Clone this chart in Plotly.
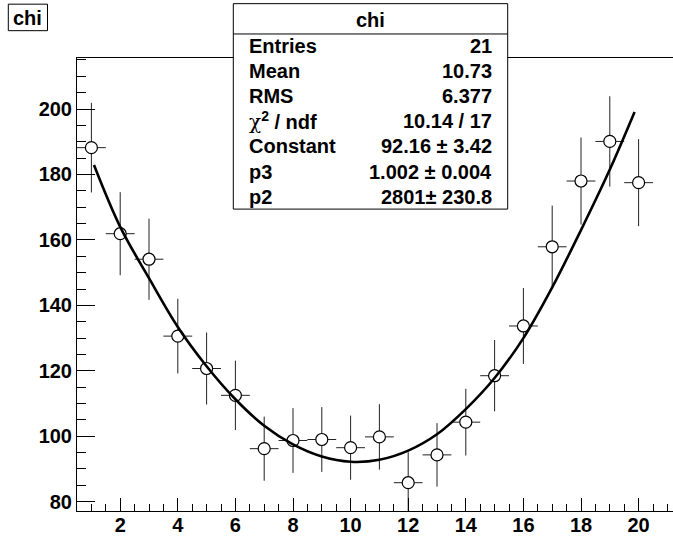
import plotly.graph_objects as go

# ---- data ----
x_vals = [1, 2, 3, 4, 5, 6, 7, 8, 9, 10, 11, 12, 13, 14, 15, 16, 17, 18, 19, 20]
y_vals = [188.2, 161.9, 154.1, 130.6, 120.7, 112.5, 96.2, 98.7, 99.0, 96.5,
          99.8, 85.8, 94.3, 104.3, 118.5, 133.7, 157.9, 178.0, 190.1, 177.5]
y_errs = [13.7, 12.7, 12.4, 11.4, 11.0, 10.6, 9.8, 9.9, 9.9, 9.8,
          10.0, 9.3, 9.7, 10.2, 10.9, 11.6, 12.6, 13.3, 13.8, 13.3]
x_half_width = 0.5

# fit curve
fit_x = [1.09, 2, 3, 4, 5, 6, 7, 8, 9, 10, 11, 12, 13, 14, 15, 16, 17, 18, 19, 19.86]
fit_y = [182.9, 164.0, 148.3, 133.4, 121.4, 111.3, 103.2, 97.5, 93.8, 92.2,
         92.8, 95.6, 100.6, 108.3, 117.8, 130.0, 145.5, 163.0, 181.5, 199.1]

title_text = "chi"
stats_rows = [
    ("Entries", "21"),
    ("Mean", "10.73"),
    ("RMS", "6.377"),
    ("<span style='font-weight:normal;font-family:DejaVu Serif'>χ</span><sup>2</sup> / ndf", "10.14 / 17"),
    ("Constant", "92.16 ± 3.42"),
    ("p3", "1.002 ± 0.004"),
    ("p2", "2801± 230.8"),
]

x_ticks = [2, 4, 6, 8, 10, 12, 14, 16, 18, 20]
y_ticks = [80, 100, 120, 140, 160, 180, 200]

# ---- layout geometry (pixels) ----
W, H = 673, 540
L, R, T, B = 77, 673, 58.3, 511.0
FONT = "Liberation Sans"
FS = 20


def px(xp):
    return (xp - L) / (R - L)


def py(yp):
    return (B - yp) / (B - T)


fig = go.Figure()

fig.add_trace(go.Scatter(
    x=x_vals, y=y_vals, mode="markers",
    error_y=dict(type="data", array=y_errs, visible=True, color="#222222",
                 thickness=1, width=0),
    error_x=dict(type="constant", value=x_half_width, visible=True,
                 color="#222222", thickness=1, width=0),
    marker=dict(symbol="circle", size=12, color="white",
                line=dict(color="black", width=1.2)),
    showlegend=False, hoverinfo="skip",
))

fig.add_trace(go.Scatter(
    x=fit_x, y=fit_y, mode="lines", line=dict(color="black", width=2.6, shape="spline"),
    showlegend=False, hoverinfo="skip",
))

shapes = []
annotations = []

# title box
shapes.append(dict(type="rect", xref="paper", yref="paper",
                   x0=px(8.3), x1=px(47.5), y0=py(31), y1=py(4.5),
                   line=dict(color="black", width=1), fillcolor="white", layer="above"))
annotations.append(dict(xref="paper", yref="paper", x=px(27.9), y=py(18),
                        text=title_text, showarrow=False, xanchor="center", yanchor="middle",
                        font=dict(family=FONT, size=FS, weight="bold", color="black")))

# stats box
bx0, bx1, by0, by1 = 233.3, 507.7, 4.0, 209.3
shapes.append(dict(type="rect", xref="paper", yref="paper",
                   x0=px(bx0), x1=px(bx1), y0=py(by1), y1=py(by0),
                   line=dict(color="black", width=1), fillcolor="white", layer="above"))
shapes.append(dict(type="line", xref="paper", yref="paper",
                   x0=px(bx0), x1=px(bx1), y0=py(34.3), y1=py(34.3),
                   line=dict(color="black", width=1), layer="above"))
annotations.append(dict(xref="paper", yref="paper", x=px((bx0 + bx1) / 2), y=py(20.5),
                        text=title_text, showarrow=False, xanchor="center", yanchor="middle",
                        font=dict(family=FONT, size=FS, weight="bold", color="black")))
for i, (lab, val) in enumerate(stats_rows):
    yc = 46.0 + 25.15 * i
    annotations.append(dict(xref="paper", yref="paper", x=px(246.5), y=py(yc),
                            text=lab, showarrow=False, xanchor="left", yanchor="middle",
                            font=dict(family=FONT, size=FS, weight="bold", color="black")))
    annotations.append(dict(xref="paper", yref="paper", x=px(494), y=py(yc),
                            text=val, showarrow=False, xanchor="right", yanchor="middle",
                            font=dict(family=FONT, size=FS, weight="bold", color="black")))

fig.update_layout(
    width=W, height=H,
    margin=dict(l=L, r=W - R, t=T, b=H - B, pad=0, autoexpand=False),
    paper_bgcolor="white", plot_bgcolor="white",
    shapes=shapes, annotations=annotations,
    xaxis=dict(range=[0.5, 0.5 + (R - L) / 28.8], showgrid=False, zeroline=False,
               automargin=False,
               showline=True, linecolor="black", linewidth=1, mirror=True,
               ticks="inside", ticklen=13, tickcolor="black", tickwidth=1,
               ticklabelstandoff=-4,
               tickvals=x_ticks, ticktext=[str(v) for v in x_ticks],
               minor=dict(dtick=0.5, tick0=0, ticks="inside", ticklen=7,
                          tickcolor="black", tickwidth=1, showgrid=False),
               tickfont=dict(family=FONT, size=FS, weight="bold", color="black"),
               fixedrange=True),
    yaxis=dict(range=[77.15, 215.6], showgrid=False, zeroline=False,
               automargin=False,
               showline=True, linecolor="black", linewidth=1, mirror=False,
               ticks="inside", ticklen=18, tickcolor="black", tickwidth=1,
               tickvals=y_ticks, ticktext=[str(v) for v in y_ticks],
               minor=dict(dtick=5, tick0=0, ticks="inside", ticklen=9,
                          tickcolor="black", tickwidth=1, showgrid=False),
               tickfont=dict(family=FONT, size=FS, weight="bold", color="black"),
               fixedrange=True),
)

fig.write_html(
    "out.html",
    config={"staticPlot": True},
    post_script="document.body.style.margin='0';document.body.style.overflow='hidden';",
)
